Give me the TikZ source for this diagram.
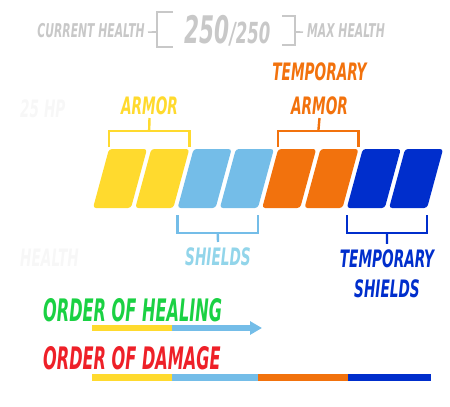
\documentclass[tikz,border=0pt]{standalone}
\usepackage{fontspec}
\newfontfamily\owfont[FakeStretch=0.57]{DejaVu Sans}
\newfontfamily\owtight[FakeStretch=0.52]{DejaVu Sans}
\usepackage{tikz}
\usetikzlibrary{calc,positioning,arrows.meta}
\definecolor{owyellow}{HTML}{FFDA2E}
\definecolor{owshield}{HTML}{74BDE8}
\definecolor{owshieldtxt}{HTML}{92D5EA}
\definecolor{owarmor}{HTML}{F2720D}
\definecolor{owtemp}{HTML}{002ECC}
\definecolor{owgreen}{HTML}{1AD143}
\definecolor{owred}{HTML}{EE2028}
\definecolor{hdrgray}{HTML}{C8C8C8}
\definecolor{faint}{HTML}{F7F7F7}

\begin{document}
\begin{tikzpicture}[
  x=1pt, y=-1pt,
  owlabel/.style={
    inner sep=0pt, anchor=base,
    font=\owfont\bfseries\itshape\fontsize{24}{24}\selectfont,
  },
  hdrlabel/.style={
    inner sep=0pt, anchor=base, text=hdrgray,
    font=\owfont\bfseries\itshape\fontsize{19}{19}\selectfont,
  },
  orderlabel/.style={
    inner sep=0pt, anchor=base west,
    font=\owtight\bfseries\itshape\fontsize{31}{31}\selectfont,
  },
  bracket/.style={line width=2.4pt},
  hdrline/.style={draw=hdrgray, line width=1.6pt},
  bar/.style={line width=6pt},
]
\useasboundingbox (0,0) rectangle (450,407);

% header
\node[hdrlabel, anchor=base east] (cur) at (145,37) {CURRENT HEALTH};
\node[hdrlabel, anchor=base west, font=\owfont\bfseries\itshape\fontsize{38}{38}\selectfont] (hpnow) at (184,43) {250};
\node[hdrlabel, right=0pt of hpnow.base east, anchor=base west, font=\owfont\bfseries\itshape\fontsize{29}{29}\selectfont] (hpmax) {/250};
\node[hdrlabel, anchor=base west] (max) at (307,37) {MAX HEALTH};
\draw[hdrline] ([xshift=3pt,yshift=-2pt]cur.east) -- (157,32);
\draw[hdrline] (173,12) -- (157,12) -- (157,47) -- (173,47);
\draw[hdrline] (282,16) -- (295,16) -- (295,45) -- (282,45);
\draw[hdrline] (295,32) -- ([xshift=-4pt,yshift=-2pt]max.west);

% barely visible
\node[owlabel, anchor=base west, text=faint] (faintHP) at (20,117) {25 HP};
\node[owlabel, anchor=base west, text=faint] (faintHealth) at (20,266) {HEALTH};

% health segments
\foreach \c [count=\i from 0] in {owyellow,owyellow,owshield,owshield,owarmor,owarmor,owtemp,owtemp} {
  \coordinate (s\i-bl) at ({93+42.3*\i},208);
  \coordinate (s\i-br) at ({131+42.3*\i},208);
  \coordinate (s\i-tr) at ({147+42.3*\i},149);
  \coordinate (s\i-tl) at ({109+42.3*\i},149);
  \fill[\c, rounded corners=3pt] (s\i-bl) -- (s\i-br) -- (s\i-tr) -- (s\i-tl) -- cycle;
}

% armor
\node[owlabel, text=owyellow] (armor) at (149.5,114) {ARMOR};
\draw[bracket, owyellow] ($(s0-tl)+(0,-2)$) -- ++(0,-16) -| ($(s1-tr)+(0,-2)$);
\draw[bracket, owyellow] ($(s0-tl)!.5!(s1-tr)+(0,-18)$) -- ([yshift=-4pt]armor.base);

% temporary armor
\node[owlabel, text=owarmor] (tarmorA) at (319.5,80) {TEMPORARY};
\node[owlabel, text=owarmor] (tarmor) at (319.5,114) {ARMOR};
\draw[bracket, owarmor] ($(s4-tl)+(0,-2)$) -- ++(0,-16) -| ($(s5-tr)+(0,-2)$);
\draw[bracket, owarmor] ($(s4-tl)!.5!(s5-tr)+(0,-18)$) -- ([yshift=-4pt]tarmor.base);

% shields
\node[owlabel, text=owshieldtxt] (shields) at (218,265) {SHIELDS};
\draw[bracket, owshield] ($(s2-bl)+(0,7)$) -- ++(0,18) -| ($(s3-br)+(0,7)$);
\draw[bracket, owshield] ($(s2-bl)!.5!(s3-br)+(0,25)$) -- ([yshift=5pt]shields.north);

% temporary shields
\node[owlabel, text=owtemp] (tshieldsA) at (387,267) {TEMPORARY};
\node[owlabel, text=owtemp] (tshields) at (387,297) {SHIELDS};
\draw[bracket, owtemp] ($(s6-bl)+(0,7)$) -- ++(0,18) -| ($(s7-br)+(0,7)$);
\draw[bracket, owtemp] ($(s6-bl)!.5!(s7-br)+(0,25)$) -- ([yshift=5pt]tshieldsA.north);

% order of healing
\node[orderlabel, text=owgreen] (heal) at (43,321) {ORDER OF HEALING};
\coordinate (heal-start) at (92,328);
\draw[bar, owyellow] (heal-start) -- ++(80,0) coordinate (heal-mid);
\draw[bar, owshield, -{Triangle[length=12pt,width=13pt]}] (heal-mid) -- ++(90,0);

% order of damage
\node[orderlabel, text=owred] (damage) at (43,369) {ORDER OF DAMAGE};
\coordinate (dmg-start) at (92,377);
\draw[bar, line width=7pt, owyellow] (dmg-start) -- ++(80,0) coordinate (dmg-a);
\draw[bar, line width=7pt, owshield] (dmg-a) -- ++(86,0) coordinate (dmg-b);
\draw[bar, line width=7pt, owarmor] (dmg-b) -- ++(90,0) coordinate (dmg-c);
\draw[bar, line width=7pt, owtemp] (dmg-c) -- ++(83,0);

\end{tikzpicture}
\end{document}
